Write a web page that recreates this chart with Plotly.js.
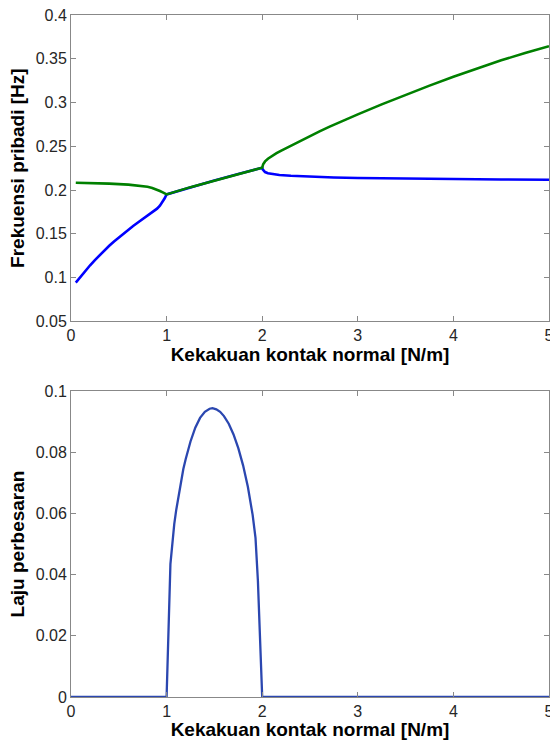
<!DOCTYPE html>
<html>
<head>
<meta charset="utf-8">
<script src="https://cdn.plot.ly/plotly-3.0.1.min.js"></script>
<style>html,body{margin:0;padding:0;background:#fff;}#chart{width:550px;height:740px;}</style>
</head>
<body>
<div id="chart"></div>
<script>
// Top plot: natural frequencies, lower branch (blue)
var blueX = [0.05,0.1,0.15,0.2,0.25,0.3,0.35,0.4,0.45,0.5,0.55,0.6,0.65,0.7,0.75,0.8,0.85,0.9,0.93,0.96,0.98,1.0,1.25,1.5,1.75,2.0,2.005,2.015,2.03,2.06,2.1,2.18,2.3,2.5,2.75,3.0,3.5,4.0,4.5,5.0];
var blueY = [0.0942,0.1012,0.1078,0.114,0.12,0.1258,0.1312,0.1363,0.1412,0.1459,0.1505,0.1548,0.1589,0.1629,0.1668,0.1705,0.1743,0.1787,0.1822,0.1866,0.1905,0.195,0.2033,0.2108,0.2183,0.2255,0.2236,0.2218,0.2205,0.2192,0.2183,0.2172,0.2163,0.2152,0.2143,0.2137,0.2129,0.2123,0.212,0.2118];
// Top plot: natural frequencies, upper branch (green)
var greenX = [0.05,0.2,0.4,0.6,0.7,0.75,0.8,0.85,0.9,0.93,0.96,0.98,1.0,1.25,1.5,1.75,2.0,2.01,2.03,2.06,2.1,2.15,2.2,2.3,2.4,2.5,2.6,2.7,2.8,2.9,3.0,3.25,3.5,3.75,4.0,4.25,4.5,4.75,5.0];
var greenY = [0.2083,0.208,0.2073,0.2062,0.2053,0.2046,0.2037,0.2024,0.2005,0.1989,0.1973,0.1962,0.195,0.2033,0.2108,0.2183,0.2255,0.2295,0.2327,0.2358,0.2389,0.2421,0.2451,0.2508,0.2563,0.2617,0.267,0.2721,0.277,0.2818,0.2865,0.2979,0.3088,0.3193,0.3294,0.339,0.3482,0.3565,0.3644];
// Bottom plot: growth rate
var rateX = [0,1.0,1.04,1.06,1.08,1.1,1.125,1.15,1.175,1.2,1.25,1.3,1.35,1.4,1.45,1.48,1.52,1.56,1.6,1.65,1.7,1.75,1.8,1.85,1.9,1.93,1.955,2.0,5.0];
var rateY = [0,0,0.0434,0.051,0.0565,0.061,0.066,0.0705,0.0745,0.0778,0.0835,0.088,0.0912,0.0932,0.0942,0.0944,0.094,0.0932,0.0918,0.0893,0.0858,0.0813,0.0757,0.0687,0.0595,0.052,0.038,0,0];

var xTicks = [0,1,2,3,4,5];
var yTicksTop = [0.05,0.1,0.15,0.2,0.25,0.3,0.35,0.4];
var yTickTextTop = ['0.05','0.1','0.15','0.2','0.25','0.3','0.35','0.4'];
var yTicksBot = [0,0.02,0.04,0.06,0.08,0.1];
var yTickTextBot = ['0','0.02','0.04','0.06','0.08','0.1'];

var xTitle = 'Kekakuan kontak normal [N/m]';
var yTitleTop = 'Frekuensi pribadi [Hz]';
var yTitleBot = 'Laju perbesaran';

var FONT = 'Liberation Sans, Arial, Helvetica, sans-serif';
var tickFont = {family: FONT, size: 16, color: '#262626'};
var titleFont = {family: FONT, size: 19, color: '#000', weight: 'bold'};

var traces = [
  {x: blueX, y: blueY, xaxis: 'x', yaxis: 'y', mode: 'lines', line: {color: '#0000ff', width: 2.6}, hoverinfo: 'skip'},
  {x: greenX, y: greenY, xaxis: 'x', yaxis: 'y', mode: 'lines', line: {color: '#008000', width: 2.6}, hoverinfo: 'skip'},
  {x: rateX, y: rateY, xaxis: 'x2', yaxis: 'y2', mode: 'lines', line: {color: '#2b47b0', width: 2.3}, hoverinfo: 'skip'}
];

function xax(anchor) {
  return {
    anchor: anchor, range: [0,5], tickvals: xTicks, ticktext: xTicks.map(String),
    ticks: 'inside', ticklen: 5, tickcolor: '#888', tickwidth: 1,
    showline: true, linecolor: '#888', linewidth: 1, mirror: 'ticks',
    showgrid: false, zeroline: false, tickfont: tickFont, ticklabeloverflow: 'allow',
    title: {text: '<b>' + xTitle + '</b>', font: titleFont, standoff: 0}
  };
}
function yax(anchor, dom, range, tv, tt, title) {
  return {
    anchor: anchor, domain: dom, range: range, tickvals: tv, ticktext: tt,
    ticks: 'inside', ticklen: 5, tickcolor: '#888', tickwidth: 1,
    showline: true, linecolor: '#888', linewidth: 1, mirror: 'ticks',
    showgrid: false, zeroline: false, tickfont: tickFont,
    title: {text: '<b>' + title + '</b>', font: titleFont, standoff: 6}
  };
}

var layout = {
  width: 550, height: 740,
  margin: {l: 70.5, r: 1, t: 14.7, b: 43.3},
  paper_bgcolor: '#fff', plot_bgcolor: '#fff',
  showlegend: false,
  xaxis: xax('y'),
  yaxis: yax('x', [0.5509, 1], [0.05, 0.4], yTicksTop, yTickTextTop, yTitleTop),
  xaxis2: xax('y2'),
  yaxis2: yax('x2', [0, 0.4487], [0, 0.1], yTicksBot, yTickTextBot, yTitleBot)
};

Plotly.newPlot('chart', traces, layout, {staticPlot: true, displayModeBar: false});
</script>
</body>
</html>
